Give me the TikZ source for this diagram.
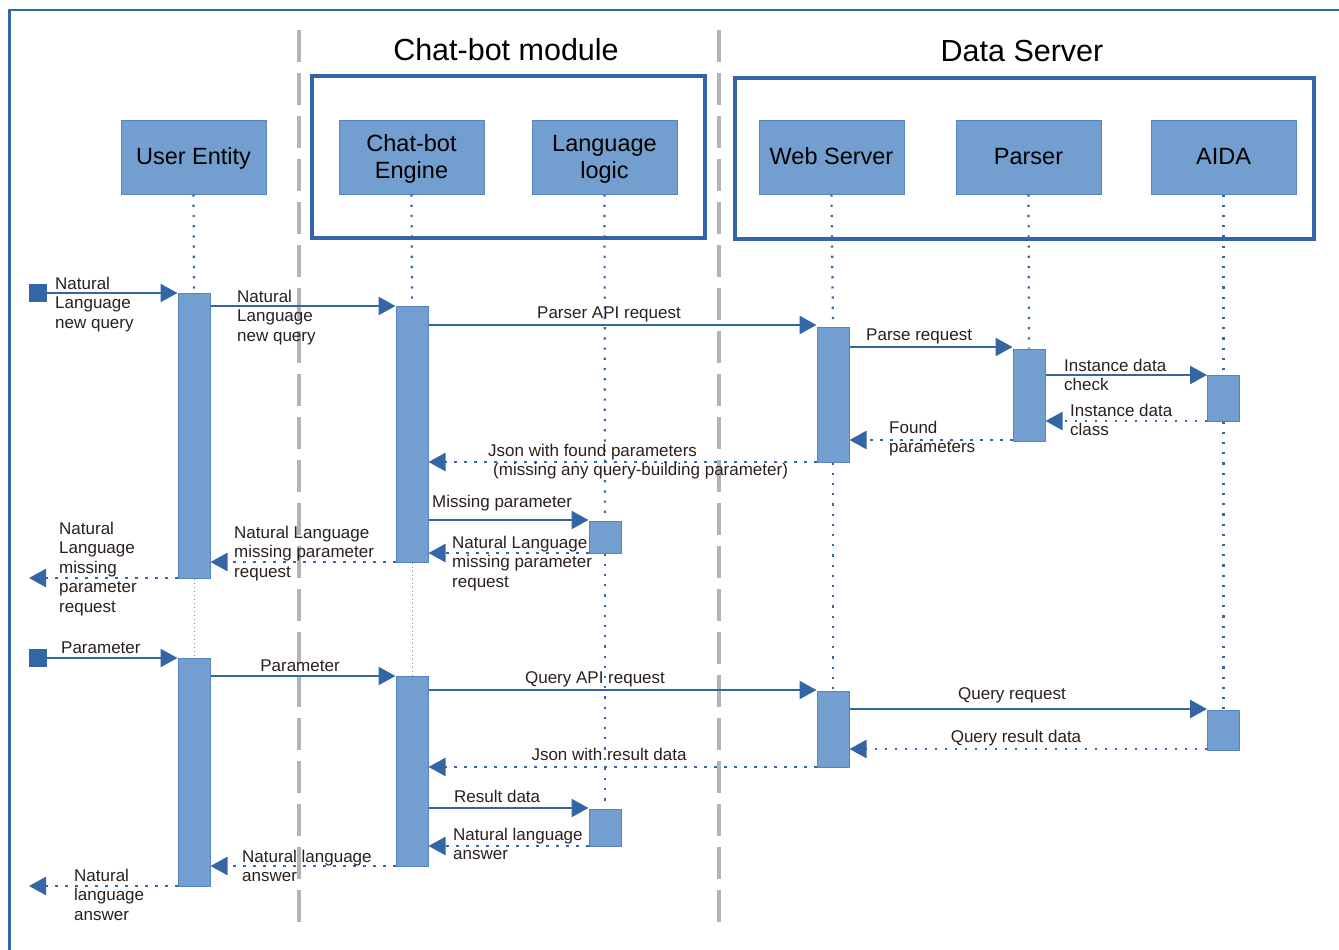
\documentclass[tikz,border=0pt]{standalone}
\usepackage{fontspec}
\setmainfont{Liberation Sans}
\usetikzlibrary{arrows.meta}
\definecolor{lineblue}{HTML}{3465A4}
\definecolor{actfill}{HTML}{729FCF}
\definecolor{actdraw}{HTML}{5485C2}
\definecolor{sepgray}{HTML}{B3B3B3}
\definecolor{labeltext}{HTML}{2A1F1F}
\newcommand{\ptxt}[2]{\raisebox{-#1}[\height][\depth]{\begin{tabular}{@{}c@{}}#2\end{tabular}}}
\begin{document}
\begin{tikzpicture}[x=1pt,y=-1pt,
  participant/.style={rectangle, fill=actfill, draw=actdraw, line width=1pt, minimum width=145pt, minimum height=74pt, inner sep=0pt, align=center, font=\fontsize{23.5}{27}\selectfont, text=black},
  act/.style={rectangle, fill=actfill, draw=actdraw, line width=1pt, minimum width=32pt, inner sep=0pt},
  life/.style={lineblue, line width=2.2pt, dash pattern=on 2.2pt off 8pt},
  thinlife/.style={lineblue!70, line width=0.8pt, dash pattern=on 1pt off 3pt},
  msg/.style={lineblue, line width=2.5pt, -{Triangle[length=17pt,width=18pt]}},
  ret/.style={msg, dash pattern=on 2.5pt off 7.5pt},
  lbl/.style={font=\fontsize{17}{19.5}\selectfont, text=labeltext, inner sep=0pt, align=left, anchor=base west},
  clbl/.style={lbl, anchor=base, align=center},
  titlelbl/.style={font=\fontsize{30.5}{34}\selectfont, text=black, inner sep=0pt, anchor=base},
  group/.style={lineblue, line width=4pt},
  sep/.style={sepgray, line width=3.5pt, dash pattern=on 32pt off 11pt},
  startsq/.style={rectangle, fill=lineblue, minimum size=18pt, inner sep=0pt}
]
\useasboundingbox (0,0) rectangle (1339,950);
% frame
\draw[lineblue, line width=2.5pt] (9.5,950) -- (9.5,10) -- (1339,10);
% separators
\draw[sep] (299,30) -- (299,925);
\draw[sep] (719,30) -- (719,925);
% titles
\node[titlelbl] (t1) at (506,61) {Chat-bot module};
\node[titlelbl] (t2) at (1022,62) {Data Server};
% groups
\draw[group] (312,76) rectangle (705,238);
\draw[group] (735,78) rectangle (1314,239);
% participants
\node[participant] (ue) at (193.5,157) {\ptxt{2pt}{User Entity}};
\node[participant] (cb) at (411.5,157) {\ptxt{3pt}{Chat-bot\\Engine}};
\node[participant] (ll) at (604.5,157) {\ptxt{3pt}{Language\\logic}};
\node[participant] (ws) at (831.5,157) {\ptxt{2pt}{Web Server}};
\node[participant] (ps) at (1028.5,157) {\ptxt{2pt}{Parser}};
\node[participant] (ai) at (1223.5,157) {\ptxt{2pt}{AIDA}};
% activations
\path node[act, minimum height=285pt] (ua1) at (194,435.5) {}
      node[act, minimum height=228pt] (ua2) at (194,772) {}
      node[act, minimum height=256pt] (ca1) at (412,434) {}
      node[act, minimum height=190pt] (ca2) at (412,771) {}
      node[act, minimum height=32pt] (la1) at (605,537) {}
      node[act, minimum height=37pt] (la2) at (605,827.5) {}
      node[act, minimum height=135pt] (wa1) at (833,394.5) {}
      node[act, minimum height=76pt] (wa2) at (833,729) {}
      node[act, minimum height=92pt] (pa1) at (1029,395) {}
      node[act, minimum height=46pt] (aa1) at (1223.5,398) {}
      node[act, minimum height=40pt] (aa2) at (1223.5,730) {};
% lifelines
\draw[life] (ue.south) -- (ua1.north);
\draw[thinlife] (ua1.south) -- (ua2.north);
\draw[life] (cb.south) -- (ca1.north);
\draw[thinlife] (ca1.south) -- (ca2.north);
\draw[life] (ll.south) -- (la1.north);
\draw[life] (la1.south) -- (la2.north);
\draw[life] (ws.south) -- (wa1.north);
\draw[life] (wa1.south) -- (wa2.north);
\draw[life] (ps.south) -- (pa1.north);
\draw[life] (ai.south) -- (aa1.north);
\draw[life] (aa1.south) -- (aa2.north);
% start squares and left ends
\node[startsq] (s1) at (38,293) {};
\node[startsq] (s2) at (38,658) {};
\coordinate (e1) at (29,578);
\coordinate (e2) at (29,886);
% messages, first round
\draw[msg] (s1.east) -- (ua1.west |- s1.east);
\draw[msg] (ua1.east |- 0,306) -- (ca1.west |- 0,306);
\draw[msg] (ca1.east |- 0,325) -- (wa1.west |- 0,325);
\draw[msg] (wa1.east |- 0,347) -- (pa1.west |- 0,347);
\draw[msg] (pa1.east |- 0,375) -- (aa1.west |- 0,375);
\draw[ret] (aa1.west |- 0,421) -- (pa1.east |- 0,421);
\draw[ret] (pa1.west |- 0,440) -- (wa1.east |- 0,440);
\draw[ret] (wa1.west |- 0,462) -- (ca1.east |- 0,462);
\draw[msg] (ca1.east |- 0,520) -- (la1.west |- 0,520);
\draw[ret] (la1.west |- 0,553) -- (ca1.east |- 0,553);
\draw[ret] (ca1.west |- 0,562) -- (ua1.east |- 0,562);
\draw[ret] (ua1.west |- e1) -- (e1);
% messages, second round
\draw[msg] (s2.east) -- (ua2.west |- s2.east);
\draw[msg] (ua2.east |- 0,676) -- (ca2.west |- 0,676);
\draw[msg] (ca2.east |- 0,690) -- (wa2.west |- 0,690);
\draw[msg] (wa2.east |- 0,709) -- (aa2.west |- 0,709);
\draw[ret] (aa2.west |- 0,749) -- (wa2.east |- 0,749);
\draw[ret] (wa2.west |- 0,767) -- (ca2.east |- 0,767);
\draw[msg] (ca2.east |- 0,808) -- (la2.west |- 0,808);
\draw[ret] (la2.west |- 0,846) -- (ca2.east |- 0,846);
\draw[ret] (ca2.west |- 0,866) -- (ua2.east |- 0,866);
\draw[ret] (ua2.west |- e2) -- (e2);
% labels (base = last line baseline)
\node[lbl] (l1) at (55,328) {Natural\\Language\\new query};
\node[lbl] (l2) at (237,341) {Natural\\Language\\new query};
\node[clbl] (l3) at (609,318) {Parser API request};
\node[lbl] (l4) at (866,340) {Parse request};
\node[lbl] (l5) at (1064,390.5) {Instance data\\check};
\node[lbl] (l6) at (1070,435.5) {Instance data\\class};
\node[lbl] (l7) at (889,452.5) {Found\\parameters};
\node[lbl] (l8) at (488,475.5) {Json with found parameters\\\hspace*{5pt}(missing any query-building parameter)};
\node[lbl] (l9) at (432,507) {Missing parameter};
\node[lbl] (l10) at (452,587) {Natural Language\\missing parameter\\request};
\node[lbl] (l11) at (234,577) {Natural Language\\missing parameter\\request};
\node[lbl] (l12) at (59,612) {Natural\\Language\\missing\\parameter\\request};
\node[lbl] (l13) at (61,653) {Parameter};
\node[clbl] (l14) at (300,671) {Parameter};
\node[clbl] (l15) at (595,683) {Query API request};
\node[clbl] (l16) at (1012,699) {Query request};
\node[clbl] (l17) at (1016,742) {Query result data};
\node[clbl] (l18) at (609,760) {Json with result data};
\node[lbl] (l19) at (454,802) {Result data};
\node[lbl] (l20) at (453,859.5) {Natural language\\answer};
\node[lbl] (l21) at (242,881.5) {Natural language\\answer};
\node[lbl] (l22) at (74,920) {Natural\\language\\answer};
\end{tikzpicture}
\end{document}
